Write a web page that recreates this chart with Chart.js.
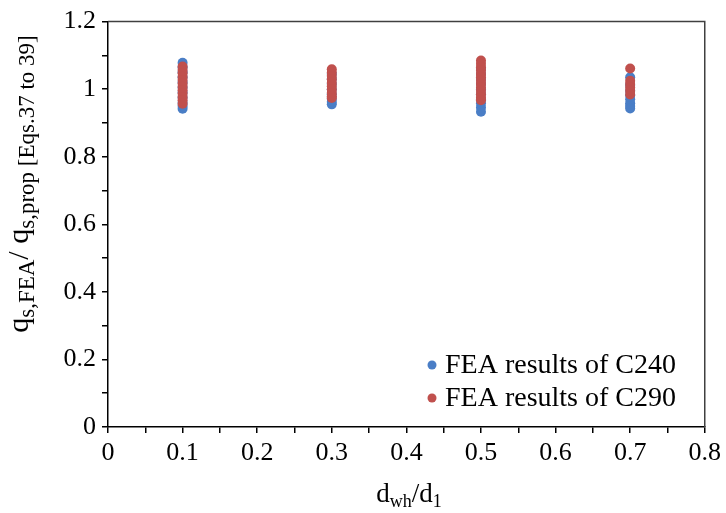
<!DOCTYPE html>
<html>
<head>
<meta charset="utf-8">
<script src="https://cdn.jsdelivr.net/npm/chart.js@4.4.1/dist/chart.umd.min.js"></script>
<style>
  html, body { margin: 0; padding: 0; background: #fff; }
  #wrap { width: 726px; height: 513px; position: relative; }
</style>
</head>
<body>
<div id="wrap"><canvas id="c" width="726" height="513"></canvas></div>
<script>
// ---- data ----
const xCategories = [0.1, 0.3, 0.5, 0.7];
const c240Values = [
  [1.078, 1.065, 1.05, 1.035, 1.02, 1.005, 0.99, 0.975, 0.96, 0.95, 0.942],
  [1.045, 1.03, 1.015, 1.0, 0.985, 0.972, 0.963, 0.955],
  [1.06, 1.045, 1.03, 1.015, 1.0, 0.985, 0.97, 0.958, 0.946, 0.933],
  [1.035, 1.012, 0.995, 0.982, 0.97, 0.958, 0.95, 0.943]
];
const c290Values = [
  [1.067, 1.057, 1.047, 1.037, 1.027, 1.017, 1.007, 0.997, 0.987, 0.977, 0.967, 0.957],
  [1.059, 1.049, 1.039, 1.029, 1.019, 1.009, 0.999, 0.989, 0.979, 0.974],
  [1.085, 1.075, 1.065, 1.055, 1.045, 1.035, 1.025, 1.015, 1.005, 0.995, 0.985, 0.975, 0.967],
  [1.061, 1.025, 1.015, 1.005, 0.995, 0.984]
];
const seriesLabels = ['FEA results of C240', 'FEA results of C290'];
const xTickLabels = ['0', '0.1', '0.2', '0.3', '0.4', '0.5', '0.6', '0.7', '0.8'];
const yTickLabels = ['0', '0.2', '0.4', '0.6', '0.8', '1', '1.2'];
const yTitleRuns = [
  { t: 'q', sub: false }, { t: 's,FEA', sub: true }, { t: '/ ', sub: false },
  { t: 'q', sub: false }, { t: 's,prop [Eqs.37 to 39]', sub: true }
];
const xTitleRuns = [
  { t: 'd', sub: false }, { t: 'wh', sub: true }, { t: '/d', sub: false }, { t: '1', sub: true }
];

function toPoints(vals) {
  const pts = [];
  xCategories.forEach((x, i) => vals[i].forEach(v => pts.push({ x: x, y: v })));
  return pts;
}

const FONT = '"Liberation Serif", "Times New Roman", serif';
const BLUE = '#4A7EC6';
const RED = '#C0504D';

function drawRuns(ctx, runs, mainSize, subSize, subShift) {
  let total = 0;
  runs.forEach(r => {
    ctx.font = (r.sub ? subSize : mainSize) + 'px ' + FONT;
    r.w = ctx.measureText(r.t).width;
    total += r.w;
  });
  let x = -total / 2;
  ctx.textBaseline = 'alphabetic';
  ctx.textAlign = 'left';
  runs.forEach(r => {
    ctx.font = (r.sub ? subSize : mainSize) + 'px ' + FONT;
    ctx.fillText(r.t, x, r.sub ? subShift : 0);
    x += r.w;
  });
}

const decor = {
  id: 'decor',
  afterDraw(chart) {
    const ctx = chart.ctx;
    const a = chart.chartArea;
    ctx.save();
    // frame top and right
    ctx.strokeStyle = '#404040';
    ctx.lineWidth = 1.5;
    ctx.beginPath();
    ctx.moveTo(a.left, a.top);
    ctx.lineTo(a.right, a.top);
    ctx.lineTo(a.right, a.bottom);
    ctx.stroke();
    ctx.fillStyle = '#000';
    // y axis title
    ctx.save();
    ctx.translate(28, 184);
    ctx.rotate(-Math.PI / 2);
    drawRuns(ctx, yTitleRuns, 30, 23, 6);
    ctx.restore();
    // x axis title
    ctx.save();
    ctx.translate(409, 502);
    drawRuns(ctx, xTitleRuns, 27, 18, 5);
    ctx.restore();
    // legend
    const ds = chart.data.datasets;
    const ly = [365, 398];
    ds.forEach((d, i) => {
      ctx.beginPath();
      ctx.fillStyle = d.backgroundColor;
      ctx.arc(432, ly[i], 4.5, 0, Math.PI * 2);
      ctx.fill();
      ctx.fillStyle = '#000';
      ctx.font = '28px ' + FONT;
      ctx.textBaseline = 'middle';
      ctx.textAlign = 'left';
      ctx.fillText(d.label, 445, ly[i] + 1);
    });
    ctx.restore();
  }
};

new Chart(document.getElementById('c'), {
  type: 'scatter',
  data: {
    datasets: [
      { label: seriesLabels[0], data: toPoints(c240Values), backgroundColor: BLUE, borderColor: BLUE,
        pointRadius: 5, borderWidth: 0, order: 2 },
      { label: seriesLabels[1], data: toPoints(c290Values), backgroundColor: RED, borderColor: RED,
        pointRadius: 5, borderWidth: 0, order: 1 }
    ]
  },
  options: {
    responsive: false,
    animation: false,
    layout: { padding: { top: 18, right: 17, left: 0, bottom: 0 } },
    plugins: { legend: { display: false }, tooltip: { enabled: false } },
    scales: {
      x: {
        type: 'linear', min: 0, max: 0.8,
        afterFit(s) { s.height = 86; },
        border: { color: '#000', width: 1.5 },
        grid: { drawOnChartArea: false, drawTicks: true, tickLength: 6, color: '#000', lineWidth: 1.5 },
        ticks: {
          stepSize: 0.05, autoSkip: false, maxRotation: 0, padding: 5, color: '#000',
          font: { family: FONT, size: 26 },
          callback(v) {
            const k = Math.round(v * 100);
            return k % 10 === 0 ? xTickLabels[k / 10] : '';
          }
        }
      },
      y: {
        type: 'linear', min: 0, max: 1.2,
        afterFit(s) { s.width = 108; },
        border: { color: '#000', width: 1.5 },
        grid: { drawOnChartArea: false, drawTicks: true, tickLength: 6, color: '#000', lineWidth: 1.5 },
        ticks: {
          stepSize: 0.1, autoSkip: false, padding: 6, color: '#000',
          font: { family: FONT, size: 26 },
          callback(v) {
            const k = Math.round(v * 10);
            return k % 2 === 0 ? yTickLabels[k / 2] : '';
          }
        }
      }
    }
  },
  plugins: [decor]
});
</script>
</body>
</html>
